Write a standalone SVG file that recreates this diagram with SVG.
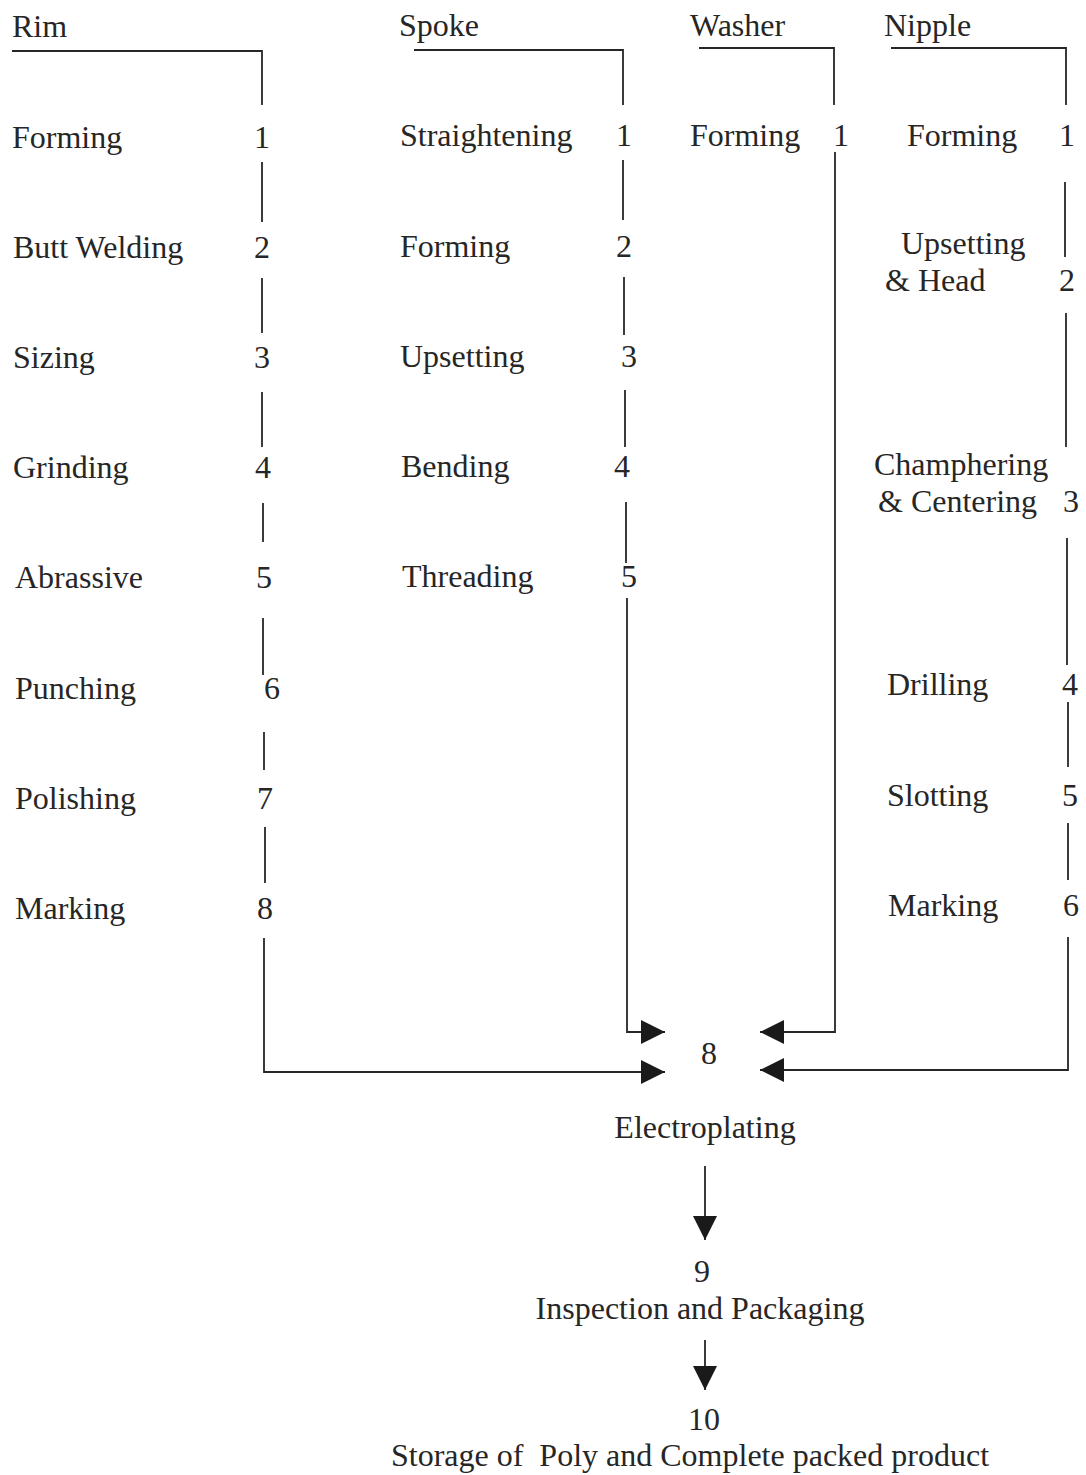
<svg xmlns="http://www.w3.org/2000/svg" width="1086" height="1475" viewBox="0 0 1086 1475">
<defs>
<style>
text{font-family:"Liberation Serif","Times New Roman",serif;font-size:32px;fill:#262626}
.n{text-anchor:middle}
.c{text-anchor:middle}
.ln{fill:none;stroke:#262626;stroke-width:1.8}
</style>
<marker id="ah" markerUnits="userSpaceOnUse" markerWidth="24" markerHeight="24" viewBox="0 0 22 22" refX="22" refY="11" orient="auto">
<path d="M0,0 L22,11 L0,22 Z" fill="#1a1a1a"/>
</marker>
</defs>
<rect width="1086" height="1475" fill="#ffffff"/>

<g id="connectors">
<!-- Rim -->
<path class="ln" d="M12,51 H262 V105"/>
<path class="ln" d="M262,162 V222"/>
<path class="ln" d="M262,278 V333"/>
<path class="ln" d="M262,392 V447"/>
<path class="ln" d="M263,503 V542"/>
<path class="ln" d="M263,618 V675"/>
<path class="ln" d="M264,732 V770"/>
<path class="ln" d="M265,827 V883"/>
<path class="ln" d="M264,938 V1072 H665" marker-end="url(#ah)"/>
<!-- Spoke -->
<path class="ln" d="M414,50 H623 V105"/>
<path class="ln" d="M623,160 V220"/>
<path class="ln" d="M624,277 V335"/>
<path class="ln" d="M625,390 V447"/>
<path class="ln" d="M626,502 V563"/>
<path class="ln" d="M627,598 V1032 H665" marker-end="url(#ah)"/>
<!-- Washer -->
<path class="ln" d="M699,48 H834 V105"/>
<path class="ln" d="M835,152 V1032 H760" marker-end="url(#ah)"/>
<!-- Nipple -->
<path class="ln" d="M891,48 H1066 V105"/>
<path class="ln" d="M1065,182 V257"/>
<path class="ln" d="M1066,313 V447"/>
<path class="ln" d="M1067,538 V665"/>
<path class="ln" d="M1068,702 V767"/>
<path class="ln" d="M1068,823 V880"/>
<path class="ln" d="M1068,937 V1070 H760" marker-end="url(#ah)"/>
<!-- Down arrows -->
<path class="ln" d="M705,1166 V1240" marker-end="url(#ah)"/>
<path class="ln" d="M705,1340 V1390" marker-end="url(#ah)"/>
</g>

<g id="rim">
<text x="12" y="37">Rim</text>
<text x="12" y="148">Forming</text><text class="n" x="262" y="148">1</text>
<text x="13" y="258">Butt Welding</text><text class="n" x="262" y="258">2</text>
<text x="13" y="368">Sizing</text><text class="n" x="262" y="368">3</text>
<text x="13" y="478">Grinding</text><text class="n" x="263" y="478">4</text>
<text x="15" y="588">Abrassive</text><text class="n" x="264" y="588">5</text>
<text x="15" y="699">Punching</text><text class="n" x="272" y="699">6</text>
<text x="15" y="809">Polishing</text><text class="n" x="265" y="809">7</text>
<text x="15" y="919">Marking</text><text class="n" x="265" y="919">8</text>
</g>

<g id="spoke">
<text x="399" y="36">Spoke</text>
<text x="400" y="146">Straightening</text><text class="n" x="624" y="146">1</text>
<text x="400" y="257">Forming</text><text class="n" x="624" y="257">2</text>
<text x="400" y="367">Upsetting</text><text class="n" x="629" y="367">3</text>
<text x="401" y="477">Bending</text><text class="n" x="622" y="477">4</text>
<text x="402" y="587">Threading</text><text class="n" x="629" y="587">5</text>
</g>

<g id="washer">
<text x="690" y="36">Washer</text>
<text x="690" y="146">Forming</text><text class="n" x="841" y="146">1</text>
</g>

<g id="nipple">
<text x="884" y="36">Nipple</text>
<text x="907" y="146">Forming</text><text class="n" x="1067" y="146">1</text>
<text x="901" y="254">Upsetting</text>
<text x="885" y="291">&amp; Head</text><text class="n" x="1067" y="291">2</text>
<text x="874" y="475">Champhering</text>
<text x="878" y="512">&amp; Centering</text><text class="n" x="1071" y="512">3</text>
<text x="887" y="695">Drilling</text><text class="n" x="1070" y="695">4</text>
<text x="887" y="806">Slotting</text><text class="n" x="1070" y="806">5</text>
<text x="888" y="916">Marking</text><text class="n" x="1071" y="916">6</text>
</g>

<g id="electroplating">
<text class="c" x="709" y="1064">8</text>
<text class="c" x="705" y="1138">Electroplating</text>
</g>
<g id="inspection">
<text class="c" x="702" y="1282">9</text>
<text class="c" x="700" y="1319">Inspection and Packaging</text>
</g>
<g id="storage">
<text class="c" x="704" y="1430">10</text>
<text class="c" x="690" y="1466" xml:space="preserve">Storage of  Poly and Complete packed product</text>
</g>
</svg>
